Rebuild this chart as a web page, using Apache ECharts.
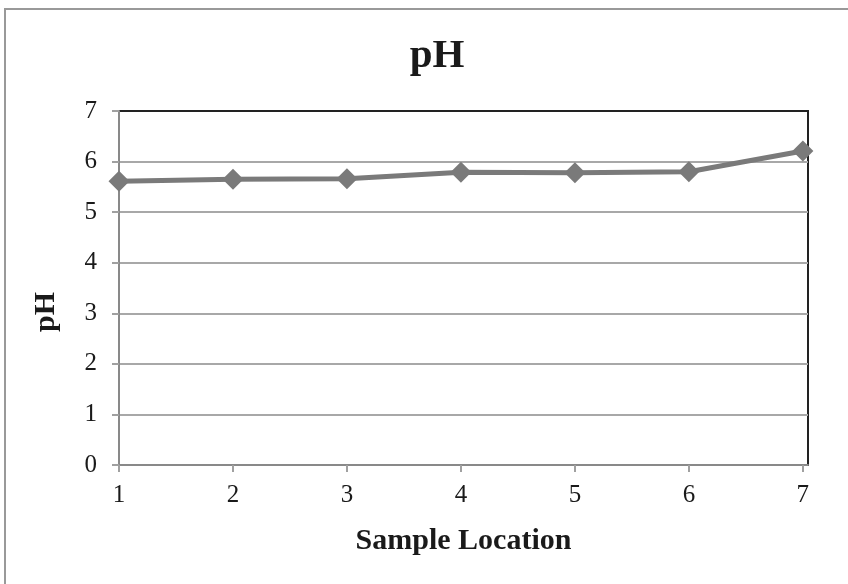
<!DOCTYPE html>
<html>
<head>
<meta charset="utf-8">
<script src="https://cdn.jsdelivr.net/npm/echarts@6/dist/echarts.min.js"></script>
<style>html,body{margin:0;padding:0;background:#fff}#c{width:848px;height:584px}</style>
</head>
<body>
<div id="c"></div>
<script>
var sampleLocations = [1, 2, 3, 4, 5, 6, 7];
var phValues = [5.61, 5.65, 5.66, 5.79, 5.78, 5.80, 6.21];
var yTicks = [0, 1, 2, 3, 4, 5, 6, 7];

var FONT = 'Liberation Serif';
var chart = echarts.init(document.getElementById('c'));
chart.setOption({
  backgroundColor: '#fff',
  animation: false,
  title: {
    text: 'pH',
    left: 432,
    textAlign: 'center',
    top: 31,
    textStyle: {fontFamily: FONT, fontSize: 41, fontWeight: 'bold', color: '#1a1a1a'}
  },
  graphic: [{
    type: 'rect',
    shape: {x: 5, y: 9, width: 900, height: 700},
    style: {fill: 'none', stroke: '#999', lineWidth: 2},
    silent: true
  }],
  grid: {left: 119, top: 111, right: 40, bottom: 119, show: true, borderColor: '#222', borderWidth: 2, backgroundColor: 'transparent'},
  xAxis: {
    type: 'value',
    min: 1,
    max: 7.045,
    interval: 1,
    name: 'Sample Location',
    nameLocation: 'middle',
    nameGap: 61,
    nameTextStyle: {fontFamily: FONT, fontSize: 30, fontWeight: 'bold', color: '#1a1a1a'},
    axisLine: {show: true, lineStyle: {color: '#898989', width: 2}},
    axisTick: {show: true, length: 7, lineStyle: {color: '#a0a0a0', width: 2}, customValues: sampleLocations},
    axisLabel: {fontFamily: FONT, fontSize: 25, color: '#1a1a1a', margin: 18, customValues: sampleLocations},
    splitLine: {show: false}
  },
  yAxis: {
    type: 'value',
    min: 0,
    max: 7,
    interval: 1,
    name: 'pH',
    nameLocation: 'middle',
    nameGap: 58,
    nameTextStyle: {fontFamily: FONT, fontSize: 30, fontWeight: 'bold', color: '#1a1a1a', padding: [0, 48, 0, 0]},
    axisLine: {show: true, lineStyle: {color: '#898989', width: 2}},
    axisTick: {show: true, length: 7, lineStyle: {color: '#a0a0a0', width: 2}},
    axisLabel: {fontFamily: FONT, fontSize: 25, color: '#1a1a1a', margin: 22},
    splitLine: {show: true, lineStyle: {color: ['#a8a8a8', '#a8a8a8', '#a8a8a8', '#a8a8a8', '#a8a8a8', '#a8a8a8', '#a8a8a8', '#222'], width: 2}}
  },
  series: [{
    type: 'line',
    data: sampleLocations.map(function (x, i) { return [x, phValues[i]]; }),
    symbol: 'diamond',
    symbolSize: 21,
    lineStyle: {color: '#7a7a7a', width: 5},
    itemStyle: {color: '#7a7a7a'}
  }]
});
</script>
</body>
</html>
